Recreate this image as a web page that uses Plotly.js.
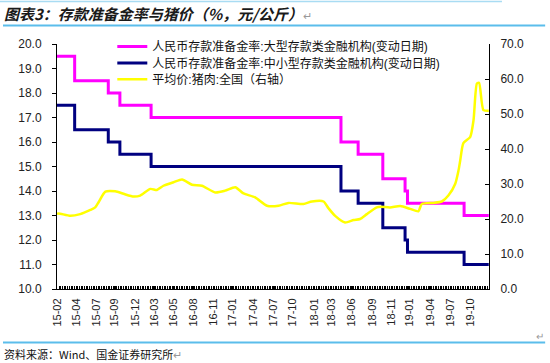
<!DOCTYPE html>
<html>
<head>
<meta charset="utf-8">
<script src="https://cdn.plot.ly/plotly-3.0.1.min.js"></script>
<style>html,body{margin:0;padding:0;background:#fff;}#chart{width:550px;height:363px;}</style>
</head>
<body>
<div id="chart"></div>
<script>
// ---- data ----
const rrrDates = ['2015-02-06','2015-04-20','2015-09-06','2015-10-24','2016-03-01','2018-04-25','2018-07-05','2018-10-15','2019-01-15','2019-01-25','2019-09-16','2019-12-27'];
const rrrLarge = [19.5, 18.5, 18.0, 17.5, 17.0, 16.0, 15.5, 14.5, 14.0, 13.5, 13.0, 13.0];
const rrrSmall = [17.5, 16.5, 16.0, 15.5, 15.0, 14.0, 13.5, 12.5, 12.0, 11.5, 11.0, 11.0];

const porkDates = ['2015-02-06','2015-02-13','2015-04-02','2015-05-13','2015-06-24','2015-07-14','2015-07-28','2015-08-25','2015-10-05','2015-11-08','2015-12-20','2016-01-16','2016-02-27','2016-03-25','2016-04-21','2016-06-02','2016-07-07','2016-08-17','2016-09-27','2016-11-21','2017-01-01','2017-02-12','2017-03-18','2017-05-05','2017-06-23','2017-08-10','2017-09-20','2017-11-21','2017-12-26','2018-02-12','2018-03-04','2018-04-01','2018-05-12','2018-06-16','2018-07-13','2018-08-10','2018-09-20','2018-10-04','2018-11-14','2018-12-26','2019-02-05','2019-03-11','2019-03-25','2019-05-12','2019-06-16','2019-07-13','2019-08-10','2019-08-24','2019-08-31','2019-09-13','2019-10-11','2019-10-25','2019-11-08','2019-11-17','2019-12-05','2019-12-27'];
const porkPrice = [21.5, 21.6, 20.9, 21.4, 22.6, 23.3, 24.8, 27.8, 27.9, 27.2, 26.4, 26.7, 28.6, 28.3, 29.5, 30.5, 31.3, 29.8, 29.5, 27.6, 28.1, 29.1, 27.3, 26.2, 23.8, 23.8, 24.6, 24.3, 25.0, 25.0, 23.1, 20.9, 19.0, 19.7, 20.0, 21.4, 23.3, 23.5, 23.3, 23.7, 22.9, 22.2, 24.3, 24.6, 25.0, 26.7, 30.0, 33.9, 36.7, 41.7, 43.4, 48.2, 58.7, 58.9, 51.1, 50.9];

const tickDates = ['2015-02-06','2015-04-27','2015-07-18','2015-09-30','2015-12-27','2016-03-15','2016-05-31','2016-08-23','2016-11-14','2017-01-31','2017-04-30','2017-07-20','2017-10-08','2018-01-05','2018-03-18','2018-06-09','2018-09-03','2018-11-21','2019-01-31','2019-04-30','2019-07-20','2019-10-11'];
const tickLabels = ['15-02','15-04','15-07','15-09','15-12','16-03','16-05','16-08','16-11','17-01','17-04','17-07','17-10','18-01','18-03','18-06','18-09','18-11','19-01','19-04','19-07','19-10'];

const seriesNames = ['人民币存款准备金率:大型存款类金融机构(变动日期)','人民币存款准备金率:中小型存款类金融机构(变动日期)','平均价:猪肉:全国（右轴）'];
const titleText = '图表3：存款准备金率与猪价（%，元/公斤）';
const sourceText = '资料来源：Wind、国金证券研究所';

// ---- chart ----
const cjk = '"Noto Sans CJK SC", "Noto Sans", sans-serif';
const latin = '"Liberation Sans", Arial, sans-serif';
const legendFont = '"Liberation Sans", "Noto Sans CJK SC", sans-serif';

const traces = [
  {x: rrrDates, y: rrrLarge, name: seriesNames[0], type: 'scatter', mode: 'lines',
   line: {color: '#FF00FF', width: 3, shape: 'hv'}, yaxis: 'y', legend: 'legend'},
  {x: rrrDates, y: rrrSmall, name: seriesNames[1], type: 'scatter', mode: 'lines',
   line: {color: '#000080', width: 3, shape: 'hv'}, yaxis: 'y', legend: 'legend2'},
  {x: porkDates, y: porkPrice, name: seriesNames[2], type: 'scatter', mode: 'lines',
   line: {color: '#FFFF00', width: 2.5, shape: 'spline', smoothing: 0.6}, yaxis: 'y2', legend: 'legend3'}
];

const legendBase = {x: 0.128, xanchor: 'left', yanchor: 'top', bgcolor: 'rgba(255,255,255,0)',
                    font: {family: legendFont, size: 12, color: '#111'}, itemwidth: 30};

const blue = '#5BBDEB';
const layout = {
  width: 550, height: 363,
  margin: {l: 57, r: 61, t: 44, b: 74, pad: 0},
  paper_bgcolor: '#fff', plot_bgcolor: '#fff',
  showlegend: true,
  legend: Object.assign({}, legendBase, {y: 1.049}),
  legend2: Object.assign({}, legendBase, {y: 0.982}),
  legend3: Object.assign({}, legendBase, {y: 0.915}),
  xaxis: {type: 'date', range: ['2015-02-06', '2019-12-28'],
          tickmode: 'array', tickvals: tickDates, ticktext: tickLabels, tickangle: -90,
          tickfont: {family: latin, size: 11, color: '#222'},
          ticks: 'inside', ticklen: 3, tickcolor: '#000', ticklabelstandoff: 4,
          minor: {dtick: 7 * 86400000, ticks: 'inside', ticklen: 3, tickcolor: '#000', showgrid: false},
          showline: true, linecolor: '#000', linewidth: 1, showgrid: false, zeroline: false, fixedrange: true},
  yaxis: {range: [10, 20], dtick: 1, tick0: 10, tickformat: '.1f',
          tickfont: {family: latin, size: 12, color: '#222'},
          ticks: 'outside', ticklen: 4, tickcolor: '#000', ticklabelstandoff: 8,
          showline: true, linecolor: '#000', linewidth: 1, showgrid: false, zeroline: false},
  yaxis2: {range: [0, 70], dtick: 10, tick0: 0, tickformat: '.1f', overlaying: 'y', side: 'right',
           tickfont: {family: latin, size: 12, color: '#222'},
           ticks: 'inside', ticklen: 4, tickcolor: '#000', ticklabelstandoff: 8,
           showline: true, linecolor: '#000', linewidth: 1, showgrid: false, zeroline: false},
  shapes: [
    {type: 'line', xref: 'paper', yref: 'paper', x0: -0.132, x1: 1.03, y0: 1.1735, y1: 1.1735, line: {color: '#A9DCF3', width: 1.5}},
    {type: 'line', xref: 'paper', yref: 'paper', x0: -0.125, x1: 1.13, y0: 1.0755, y1: 1.0755, line: {color: blue, width: 2}},
    {type: 'line', xref: 'paper', yref: 'paper', x0: -0.125, x1: 1.13, y0: -0.2184, y1: -0.2184, line: {color: blue, width: 2}}
  ],
  annotations: [
    {text: '<i><b>' + titleText + '</b></i><span style="color:#999;font-size:11px">↵</span>', xref: 'paper', yref: 'paper', x: -0.127, y: 1.1265,
     xanchor: 'left', yanchor: 'middle', showarrow: false, font: {family: cjk, size: 15, color: '#1a1a1a'}},
    {text: sourceText + '<span style="color:#999">↵</span>', xref: 'paper', yref: 'paper', x: -0.128, y: -0.2653,
     xanchor: 'left', yanchor: 'middle', showarrow: false, font: {family: cjk, size: 11, color: '#111'}},
    {text: '↵', xref: 'paper', yref: 'paper', x: 1.118, y: -0.19,
     xanchor: 'center', yanchor: 'middle', showarrow: false, font: {family: cjk, size: 10, color: '#999'}}
  ]
};

Plotly.newPlot('chart', traces, layout, {staticPlot: true, displayModeBar: false});
</script>
</body>
</html>
